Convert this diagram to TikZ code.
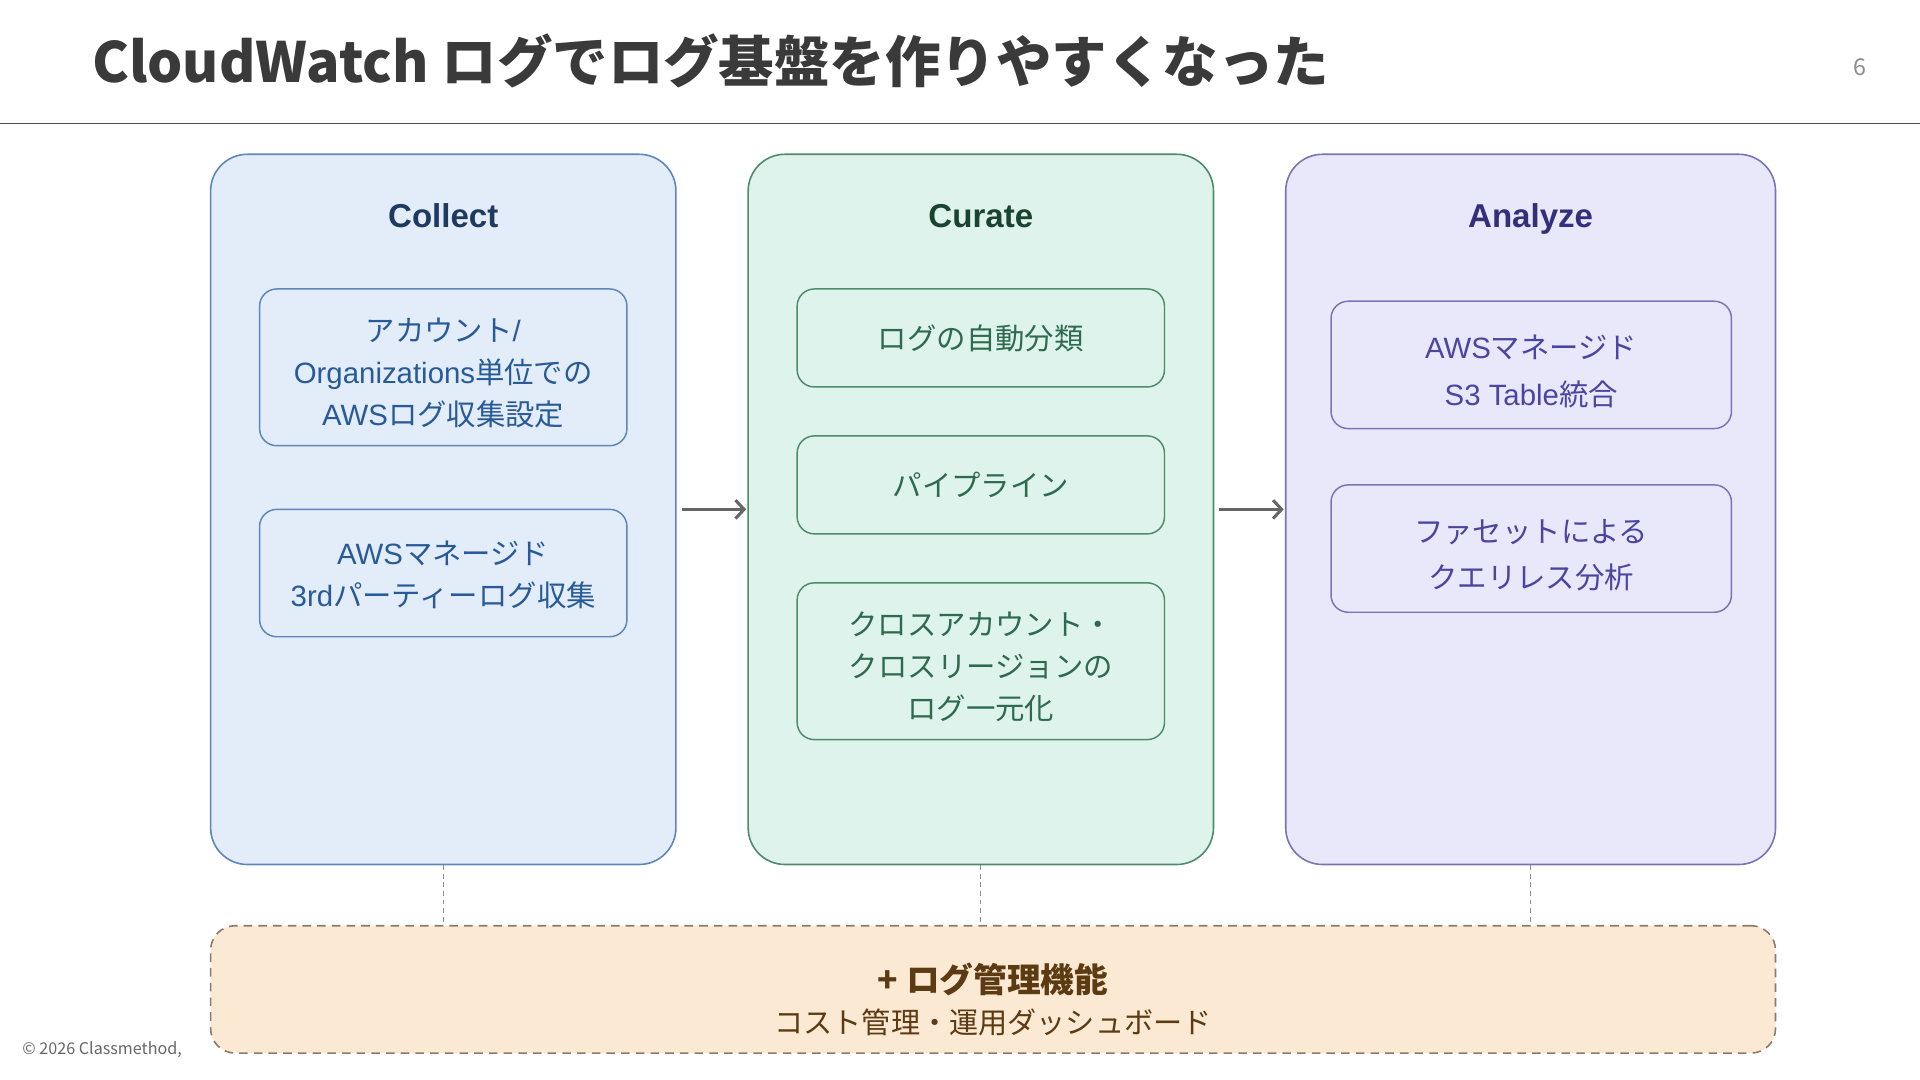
\documentclass[tikz,border=0pt]{standalone}
\usepackage{fontspec}
\setmainfont{Noto Sans CJK JP}
\newfontfamily\lat{Liberation Sans}
\usetikzlibrary{arrows.meta}
\definecolor{cbfill}{HTML}{E2EDF9}
\definecolor{cbdraw}{HTML}{5E86B8}
\definecolor{cbtext}{HTML}{285A98}
\definecolor{cbtitle}{HTML}{1E3A5F}
\definecolor{cgfill}{HTML}{DDF3EB}
\definecolor{cgdraw}{HTML}{4F8A6C}
\definecolor{cgtext}{HTML}{2D6A4F}
\definecolor{cgtitle}{HTML}{1B4332}
\definecolor{cpfill}{HTML}{E9E7FA}
\definecolor{cpdraw}{HTML}{7A74B4}
\definecolor{cptext}{HTML}{4B44A0}
\definecolor{cptitle}{HTML}{342F7A}
\definecolor{cofill}{HTML}{FBE9D4}
\definecolor{codraw}{HTML}{8C7B6B}
\definecolor{cotext}{HTML}{5C3A12}
\definecolor{titlegray}{HTML}{3A3A3A}
\begin{document}
\begin{tikzpicture}[x=1pt,y=-1pt,
  panel/.style={draw, rounded corners=30pt, line width=1.3pt, minimum height=580pt, inner sep=0pt},
  ptitle/.style={font=\lat\bfseries\fontsize{27}{30}\selectfont, inner sep=0pt, anchor=base},
  itembox/.style={draw, rounded corners=14pt, line width=1.2pt, minimum width=300pt, inner sep=0pt},
  aitem/.style={itembox, minimum width=327pt},
  itemtext/.style={inner sep=0pt, align=center, font=\fontsize{24}{34}\selectfont},
  atext/.style={itemtext, font=\fontsize{24}{38}\selectfont},
  flow/.style={draw=black!60, line width=2.5pt, -{Straight Barb[length=7pt,width=15pt]}, shorten <=4pt, shorten >=1pt},
  link/.style={draw=black!45, line width=0.9pt, dash pattern=on 4pt off 3pt}
]
\useasboundingbox (0,0) rectangle (1568,882);
% header
\node[anchor=base west, inner sep=0pt, text=titlegray, font=\bfseries\fontsize{45.3}{50}\selectfont] (title) at (75,67) {CloudWatch ログでログ基盤を作りやすくなった};
\node[inner sep=0pt, text=black!45, font=\fontsize{19}{20}\selectfont] (page) at (1519,55) {6};
\coordinate (hl) at (0,101);
\coordinate (hr) at (1568,101);
\draw[black!70, line width=1.3pt] (hl) -- (hr);
\node[anchor=west, inner sep=0pt, text=black!60, font=\fontsize{13.2}{15}\selectfont] (copy) at (18,857) {© 2026 Classmethod,};

% panels
\node[panel, fill=cbfill, draw=cbdraw, minimum width=380pt] (collect) at (362,416) {};
\node[panel, fill=cgfill, draw=cgdraw, minimum width=380pt] (curate) at (801,416) {};
\node[panel, fill=cpfill, draw=cpdraw, minimum width=400pt] (analyze) at (1250,416) {};

\node[ptitle, text=cbtitle] (collectT) at (362,186) {Collect};
\node[ptitle, text=cgtitle] (curateT) at (801,186) {Curate};
\node[ptitle, text=cptitle] (analyzeT) at (1250,186) {Analyze};

% collect items
\node[itembox, draw=cbdraw, minimum height=128pt] (c1) at (362,300) {};
\node[itemtext, text=cbtext] (c1t) at ([yshift=-4.5pt]c1.center)
  {アカウント{\lat /}\\{\lat Organizations}単位での\\{\lat AWS}ログ収集設定};
\node[itembox, draw=cbdraw, minimum height=104pt] (c2) at (362,468) {};
\node[itemtext, text=cbtext] (c2t) at ([yshift=-1.5pt]c2.center)
  {{\lat AWS}マネージド\\{\lat 3rd}パーティーログ収集};

% curate items
\node[itembox, draw=cgdraw, minimum height=80pt] (g1) at (801,276) {};
\node[itemtext, text=cgtext] (g1t) at ([yshift=-0.5pt]g1.center) {ログの自動分類};
\node[itembox, draw=cgdraw, minimum height=80pt] (g2) at (801,396) {};
\node[itemtext, text=cgtext] (g2t) at (g2.center) {パイプライン};
\node[itembox, draw=cgdraw, minimum height=128pt] (g3) at (801,540) {};
\node[itemtext, text=cgtext] (g3t) at ([yshift=-4.5pt]g3.center)
  {クロスアカウント・\\クロスリージョンの\\ログ一元化};

% analyze items
\node[aitem, draw=cpdraw, minimum height=104pt] (a1) at (1250.5,298) {};
\node[atext, text=cptext] (a1t) at ([yshift=-5.5pt]a1.center)
  {{\lat AWS}マネージド\\{\lat S3 Table}統合};
\node[aitem, draw=cpdraw, minimum height=104pt] (a2) at (1250.5,448) {};
\node[atext, text=cptext] (a2t) at ([yshift=-5.5pt]a2.center)
  {ファセットによる\\クエリレス分析};

% flow arrows
\draw[flow] (collect.east) -- (curate.west);
\draw[flow] (curate.east) -- (analyze.west);

% bottom box
\node[draw=codraw, fill=cofill, line width=1.3pt, dash pattern=on 7pt off 5pt, rounded corners=20pt,
  minimum width=1278pt, minimum height=104pt, inner sep=0pt] (mgmt) at (811,808) {};
\node[inner sep=0pt, text=cotext, font=\bfseries\fontsize{27.5}{30}\selectfont] (mgmtT) at (811,800) {+ ログ管理機能};
\node[inner sep=0pt, text=cotext, font=\fontsize{23.8}{28}\selectfont] (mgmtS) at (811,835) {コスト管理・運用ダッシュボード};

% dashed links
\draw[link] (collect.south) -- (collect.south |- mgmt.north);
\draw[link] (curate.south) -- (curate.south |- mgmt.north);
\draw[link] (analyze.south) -- (analyze.south |- mgmt.north);
\end{tikzpicture}
\end{document}
